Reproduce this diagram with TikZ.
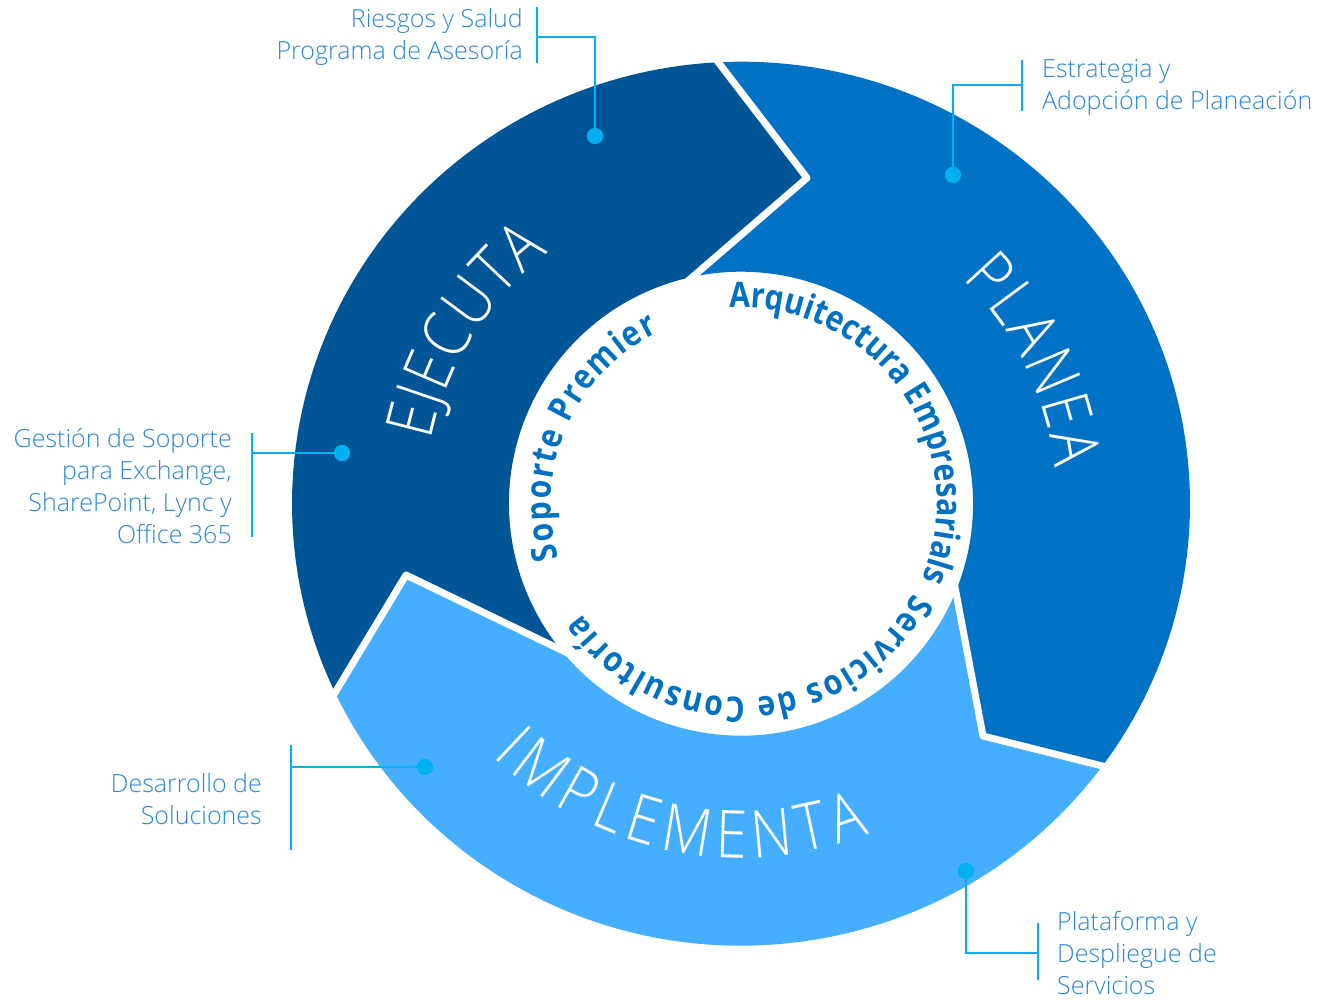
\documentclass[tikz,border=0pt]{standalone}
\usepackage{fontspec}
\setmainfont{Open Sans}
\IfFontExistsTF{Open Sans Light}{%
  \newfontfamily\lightfam{Open Sans Light}%
  \newfontfamily\bigfam{Open Sans Light}[FakeStretch=0.86]%
}{%
  \newfontfamily\lightfam{Open Sans}%
  \newfontfamily\bigfam{Open Sans}[FakeStretch=0.85]%
}
\newfontfamily\innfam{Open Sans}[FakeStretch=0.86]
\usetikzlibrary{calc,decorations.text}
\definecolor{cEje}{HTML}{005596}
\definecolor{cPla}{HTML}{0072C6}
\definecolor{cImp}{HTML}{46AEFF}
\definecolor{innerblue}{HTML}{0070C0}
\definecolor{lblblue}{HTML}{2B88D8}
\definecolor{lineblue}{HTML}{00B0F0}
\newcommand{\bigw}{\bigfam\fontsize{66}{66}\selectfont}
\newcommand{\innerw}{\innfam\bfseries\fontsize{35}{35}\selectfont}
\begin{document}
\begin{tikzpicture}[x=1pt,y=1pt,
  sep/.style={draw=white,line width=7pt,line join=round},
  lbl/.style={font=\lightfam\fontsize{25}{32}\selectfont,text=lblblue,inner sep=0pt},
  lead/.style={draw=lineblue,line width=2.6pt},
  dotn/.style={circle,fill=lineblue,minimum size=16pt,inner sep=0pt}]
\useasboundingbox (0,0) rectangle (1327,999);
\coordinate (C) at (741,495.3);
\def\Rx{449}
\def\Ry{442}
\def\Ri{232}
% outer points, inner points, tips
\coordinate (o1) at ($(C)+({449*cos(92.9)},{442*sin(92.9)})$);
\coordinate (o2) at ($(C)+({449*cos(-36.4)},{442*sin(-36.4)})$);
\coordinate (o3) at ($(C)+({449*cos(205.3)},{442*sin(205.3)})$);
\coordinate (i1) at ($(C)+(102:\Ri)$);
\coordinate (i2) at ($(C)+(-22.2:\Ri)$);
\coordinate (i3) at ($(C)+(219:\Ri)$);
\coordinate (p1) at (807,821);
\coordinate (p2) at (983,263);
\coordinate (p3) at (406,424);
% segments
\fill[cEje] (o3) arc[start angle=205.3,end angle=92.9,x radius=\Rx,y radius=\Ry] -- (p1) -- (i1) arc[start angle=102,end angle=219,radius=\Ri] -- (p3) -- cycle;
\fill[cPla] (o1) arc[start angle=92.9,end angle=-36.4,x radius=\Rx,y radius=\Ry] -- (p2) -- (i2) arc[start angle=-22.2,end angle=102,radius=\Ri] -- (p1) -- cycle;
\fill[cImp] (o2) arc[start angle=-36.4,end angle=-154.7,x radius=\Rx,y radius=\Ry] -- (p3) -- (i3) arc[start angle=-141,end angle=-22.2,radius=\Ri] -- (p2) -- cycle;
% separators
\draw[sep] ($(p1)!1.08!(i1)$) -- (p1) -- ($(p1)!1.06!(o1)$);
\draw[sep] ($(p2)!1.08!(i2)$) -- (p2) -- ($(p2)!1.06!(o2)$);
\draw[sep] ($(p3)!1.08!(i3)$) -- (p3) -- ($(p3)!1.06!(o3)$);
% big words
\path[decorate,decoration={text along path,text={|\bigw|EJECUTA},text align={fit to path},text color=white}]
  ($(C)+(168.5:316)$) arc[start angle=168.5,end angle=127.5,radius=316];
\path[decorate,decoration={text along path,text={|\bigw|PLANEA},text align={fit to path},text color=white}]
  ($(C)+(45.5:316)$) arc[start angle=45.5,end angle=6.5,radius=316];
\path[decorate,decoration={text along path,text={|\bigw|IMPLEMENTA},text align={fit to path},text color=white}]
  ($(C)+(-134.5:354)$) arc[start angle=-134.5,end angle=-68.7,radius=354];
% inner words
\path[decorate,decoration={text along path,text={|\innerw|Arquitectura Empresarials},text align={fit to path},text color=innerblue}]
  ($(C)+(93.4:196)$) arc[start angle=93.4,end angle=-22.8,radius=196];
\path[decorate,decoration={text along path,text={|\innerw|Soporte Premier},text align={fit to path},text color=innerblue}]
  ($(C)+(196.6:190)$) arc[start angle=196.6,end angle=115.8,radius=190];
\path[decorate,decoration={text along path,text={|\innerw|Servicios de Consultoría},text align={fit to path},text color=innerblue}]
  ($(C)+(-27.5:194)$) arc[start angle=-27.5,end angle=-145.3,radius=194];
% labels
\node[lbl,align=right,anchor=east] (t1) at (523,961.5) {Riesgos y Salud\\Programa de Asesoría};
\node[lbl,align=left,anchor=west] (t2) at (1042,911.5) {Estrategia y\\Adopción de Planeación};
\node[lbl,align=right,anchor=east] (t3) at (232,513) {Gestión de Soporte\\para Exchange,\\SharePoint, Lync y\\Office 365};
\node[lbl,align=right,anchor=east] (t4) at (262,200) {Desarrollo de\\Soluciones};
\node[lbl,align=left,anchor=west] (t5) at (1057,46) {Plataforma y\\Despliegue de\\Servicios};
% dots
\node[dotn] (d1) at (595,863) {};
\node[dotn] (d2) at (953,824) {};
\node[dotn] (d3) at (342,546) {};
\node[dotn] (d4) at (425,232) {};
\node[dotn] (d5) at (966,128) {};
% bracket coordinates
\coordinate (b1) at (537,962); \coordinate (b1t) at (537,992); \coordinate (b1b) at (537,936);
\coordinate (b2) at (1022,914); \coordinate (b2t) at (1022,939); \coordinate (b2b) at (1022,888);
\coordinate (b3) at (252,546); \coordinate (b3t) at (252,566); \coordinate (b3b) at (252,462);
\coordinate (b4) at (291,232); \coordinate (b4t) at (291,254); \coordinate (b4b) at (291,149);
\coordinate (b5) at (1038,46); \coordinate (b5t) at (1038,76); \coordinate (b5b) at (1038,19);
\draw[lead] (b1t) -- (b1b);
\draw[lead] (b2t) -- (b2b);
\draw[lead] (b3t) -- (b3b);
\draw[lead] (b4t) -- (b4b);
\draw[lead] (b5t) -- (b5b);
\draw[lead] (d1.center) |- (b1);
\draw[lead] (d2.center) |- (b2);
\draw[lead] (d3.center) -- (b3);
\draw[lead] (d4.center) -- (b4);
\draw[lead] (d5.center) |- (b5);
\node[dotn] at (d1) {};
\node[dotn] at (d2) {};
\node[dotn] at (d3) {};
\node[dotn] at (d4) {};
\node[dotn] at (d5) {};
\end{tikzpicture}
\end{document}
